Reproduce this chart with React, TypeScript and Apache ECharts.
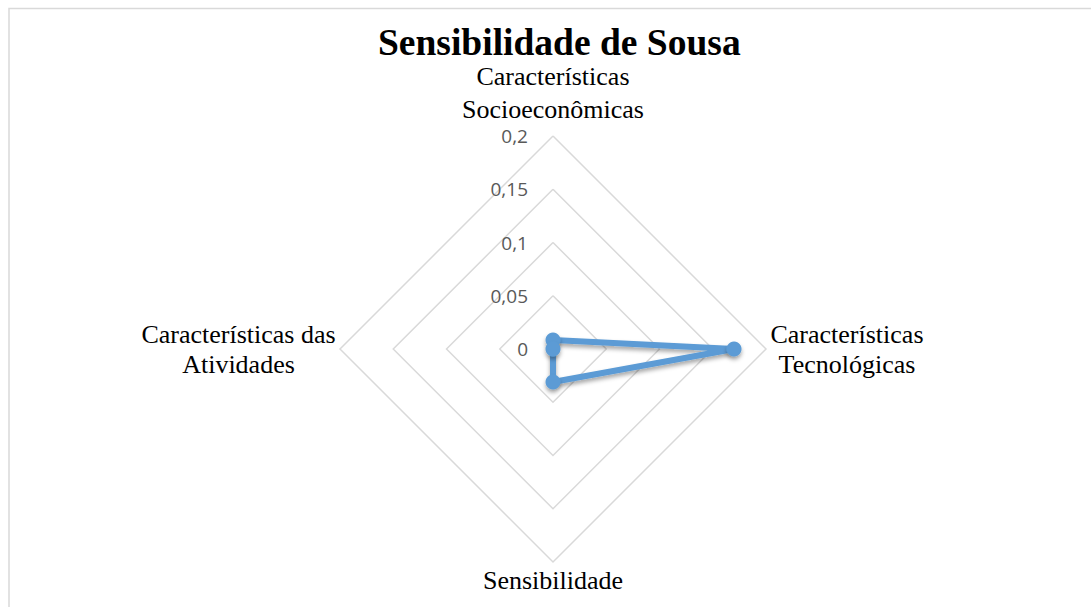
import React, { useEffect, useRef } from "react";
import * as echarts from "echarts";

const indicators = [
  "Características\nSocioeconômicas",
  "Características das\nAtividades",
  "Sensibilidade",
  "Características\nTecnológicas",
];
const seriesValues = [0.0085, 0, 0.031, 0.17];
const axisMax = 0.2;
const tickInterval = 0.05;
const titleText = "Sensibilidade de Sousa";

const NAME_FONT = "26px 'Liberation Serif'";

function measure(text: string): number {
  const c = document.createElement("canvas").getContext("2d");
  if (!c) return 200;
  c.font = NAME_FONT;
  return Math.max(...text.split("\n").map((l) => c.measureText(l).width));
}

export default function App() {
  const ref = useRef<HTMLDivElement>(null);
  useEffect(() => {
    if (!ref.current) return;
    const chart = echarts.init(ref.current, null, { renderer: "svg" });
    const rich: Record<string, any> = {
      gap: { fontSize: 1, lineHeight: 7 },
    };
    indicators.forEach((name, i) => {
      rich["n" + i] = {
        width: Math.ceil(measure(name)) + 2,
        align: "center",
        fontFamily: "Liberation Serif",
        fontSize: 26,
        lineHeight: i === 0 ? 33 : 30,
        color: "#000000",
      };
    });
    chart.setOption({
      animation: false,
      backgroundColor: "#ffffff",
      title: {
        text: titleText,
        left: 373,
        top: 18,
        textStyle: {
          fontFamily: "Liberation Serif",
          fontWeight: "bold",
          fontSize: 37.5,
          color: "#000000",
        },
      },
      graphic: [
        {
          type: "rect",
          shape: { x: 9, y: 8.5, width: 1100, height: 620 },
          style: { fill: "none", stroke: "#d9d9d9", lineWidth: 1.5 },
          silent: true,
        },
      ],
      polar: { center: [553, 349], radius: 213 },
      angleAxis: {
        startAngle: 90,
        min: 0,
        max: 360,
        show: false,
      },
      radiusAxis: {
        min: 0,
        max: axisMax,
        interval: tickInterval,
        axisLine: { show: false },
        axisTick: { show: false },
        splitLine: { show: false },
        axisLabel: {
          show: true,
          color: "#595959",
          fontFamily: "Open Sans",
          fontSize: 19,
          margin: 25,
          padding: [5, 0, 0, 0],
          formatter: (v: number) => String(Math.round(v * 100) / 100).replace(".", ","),
        },
      },
      radar: {
        center: [553, 349],
        radius: 213,
        startAngle: 90,
        shape: "polygon",
        splitNumber: 4,
        axisNameGap: 3,
        indicator: indicators.map((name) => ({ name, min: 0, max: axisMax })),
        axisName: {
          formatter: (name: string) => {
            const i = indicators.indexOf(name);
            let s = name
              .split("\n")
              .map((l) => "{n" + i + "|" + l + "}")
              .join("\n");
            if (i === 0) s += "\n{gap| }";
            return s;
          },
          rich,
        },
        axisLine: { show: false },
        axisTick: { show: false },
        splitArea: { show: false },
        splitLine: { lineStyle: { color: "#d9d9d9", width: 1.5 } },
        axisLabel: { show: false },
      },
      series: [
        {
          type: "radar",
          symbol: "circle",
          symbolSize: 15,
          data: [{ value: seriesValues, name: "Sousa" }],
          lineStyle: {
            color: "#5b9bd5",
            width: 6,
            shadowColor: "rgba(0,0,0,0.35)",
            shadowBlur: 4,
            shadowOffsetY: 3,
          },
          itemStyle: {
            color: "#5b9bd5",
            shadowColor: "rgba(0,0,0,0.35)",
            shadowBlur: 4,
            shadowOffsetY: 3,
          },
        },
      ],
    });
    return () => chart.dispose();
  }, []);
  return (
    <div
      ref={ref}
      style={{ position: "absolute", left: 0, top: 0, width: 1091, height: 607 }}
    />
  );
}
